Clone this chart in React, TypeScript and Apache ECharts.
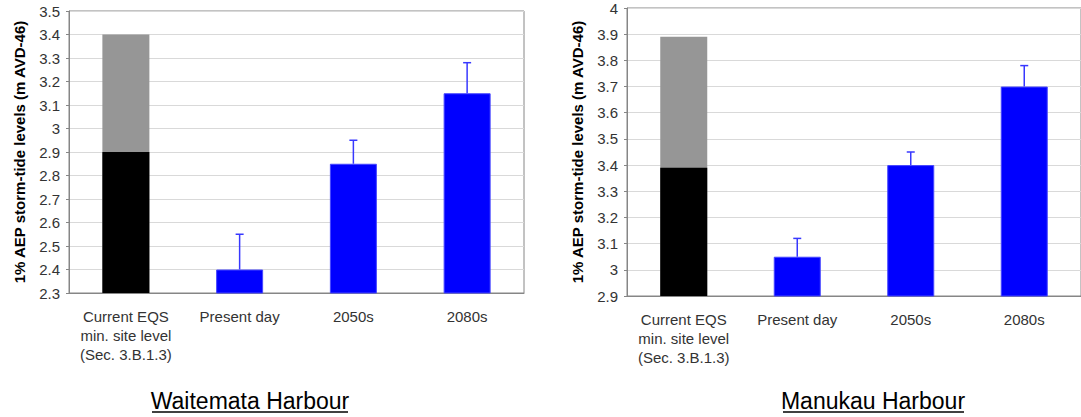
import React, { useEffect, useRef } from "react";
import * as echarts from "echarts";

// Categories shared by both harbour panels
const categories = [
  "Current EQS\nmin. site level\n(Sec. 3.B.1.3)",
  "Present day",
  "2050s",
  "2080s",
];

// Waitemata Harbour (m AVD-46)
const waitemataEqsMin = 2.9;
const waitemataEqsUpper = 3.4;
const waitemataLevels = [2.4, 2.85, 3.15];
const waitemataUpper = [2.55, 2.95, 3.28];
const waitemataTicks = { min: 2.3, max: 3.5, step: 0.1 };

// Manukau Harbour (m AVD-46)
const manukauEqsMin = 3.39;
const manukauEqsUpper = 3.89;
const manukauLevels = [3.05, 3.4, 3.7];
const manukauUpper = [3.12, 3.45, 3.78];
const manukauTicks = { min: 2.9, max: 4.0, step: 0.1 };

const yTitle = "1% AEP storm-tide levels (m AVD-46)";
const panelTitles = ["Waitemata Harbour", "Manukau Harbour"];

const FONT = '"Liberation Sans", Arial, Helvetica, sans-serif';
const AXIS_GREY = "#868686";
const BLUE = "#0000ff";
const ERR_BLUE = "#3838ff";

function buildPanel(
  idx: number,
  eqsMin: number,
  eqsUpper: number,
  levels: number[],
  upper: number[],
  ticks: { min: number; max: number; step: number }
) {
  const xAxis = {
    type: "category",
    gridIndex: idx,
    data: categories,
    axisLine: { lineStyle: { color: AXIS_GREY } },
    axisTick: { length: 5, lineStyle: { color: AXIS_GREY } },
    axisLabel: {
      interval: 0,
      fontSize: 15,
      lineHeight: 19,
      color: "#333",
      fontFamily: FONT,
      margin: 14,
    },
  };
  const yAxis = {
    type: "value",
    gridIndex: idx,
    min: ticks.min,
    max: ticks.max,
    interval: ticks.step,
    axisLine: { show: true, lineStyle: { color: AXIS_GREY } },
    axisTick: { show: true, length: 3, lineStyle: { color: AXIS_GREY } },
    axisLabel: { fontSize: 15, color: "#333", fontFamily: FONT, margin: 9 },
    splitLine: { lineStyle: { color: "#d9d9d9" } },
    name: yTitle,
    nameLocation: "middle",
    nameRotate: 90,
    nameGap: 42,
    nameTextStyle: {
      fontSize: 15,
      fontWeight: "bold",
      color: "#000",
      fontFamily: FONT,
    },
  };
  const common = {
    type: "bar",
    xAxisIndex: idx,
    yAxisIndex: idx,
    barWidth: 47,
    barGap: "-100%",
  };
  const series = [
    {
      ...common,
      name: "EQS upper",
      data: [eqsUpper, "-", "-", "-"],
      itemStyle: { color: "#969696" },
    },
    {
      ...common,
      name: "EQS min",
      data: [eqsMin, "-", "-", "-"],
      itemStyle: { color: "#000" },
    },
    {
      ...common,
      name: "Storm-tide level",
      data: ["-", ...levels],
      itemStyle: { color: BLUE, borderColor: "#4646ff", borderWidth: 1 },
    },
    {
      type: "custom",
      name: "Upper bound",
      xAxisIndex: idx,
      yAxisIndex: idx,
      z: 5,
      data: levels.map((v, i) => [i + 1, v, upper[i]]),
      encode: { x: 0, y: [1, 2] },
      renderItem: (params: any, api: any) => {
        const c = api.value(0);
        const base = api.coord([c, api.value(1)]);
        const top = api.coord([c, api.value(2)]);
        const half = 4;
        const style = { stroke: ERR_BLUE, lineWidth: 1.5 };
        return {
          type: "group",
          children: [
            {
              type: "line",
              shape: { x1: base[0], y1: base[1], x2: top[0], y2: top[1] },
              style,
            },
            {
              type: "line",
              shape: {
                x1: top[0] - half,
                y1: top[1],
                x2: top[0] + half,
                y2: top[1],
              },
              style,
            },
          ],
        };
      },
    },
  ];
  return { xAxis, yAxis, series };
}

export default function App() {
  const ref = useRef<HTMLDivElement>(null);

  useEffect(() => {
    document.body.style.margin = "0";
    if (!ref.current) return;
    const chart = echarts.init(ref.current, null, { renderer: "svg" });

    const a = buildPanel(0, waitemataEqsMin, waitemataEqsUpper, waitemataLevels, waitemataUpper, waitemataTicks);
    const b = buildPanel(1, manukauEqsMin, manukauEqsUpper, manukauLevels, manukauUpper, manukauTicks);

    const titleText = (text: string, cx: number, x1: number, x2: number) => [
      {
        type: "text",
        x: cx,
        y: 401,
        style: {
          text,
          fill: "#000",
          font: `23px ${FONT}`,
          textAlign: "center",
          textVerticalAlign: "middle",
        },
      },
      {
        type: "line",
        shape: { x1, y1: 412, x2, y2: 412 },
        style: { stroke: "#000", lineWidth: 1.5 },
      },
    ];

    chart.setOption({
      animation: false,
      backgroundColor: "#fff",
      grid: [
        { left: 69, top: 11, width: 455, height: 282, show: true, borderColor: AXIS_GREY, borderWidth: 1 },
        { left: 627, top: 8, width: 457, height: 288, show: true, borderColor: AXIS_GREY, borderWidth: 1 },
      ],
      xAxis: [a.xAxis, b.xAxis],
      yAxis: [a.yAxis, b.yAxis],
      series: [...a.series, ...b.series],
      graphic: [
        ...titleText(panelTitles[0], 250, 152, 348),
        ...titleText(panelTitles[1], 873, 783, 964),
      ],
    });

    return () => chart.dispose();
  }, []);

  return <div ref={ref} style={{ width: 1081, height: 417 }} />;
}
